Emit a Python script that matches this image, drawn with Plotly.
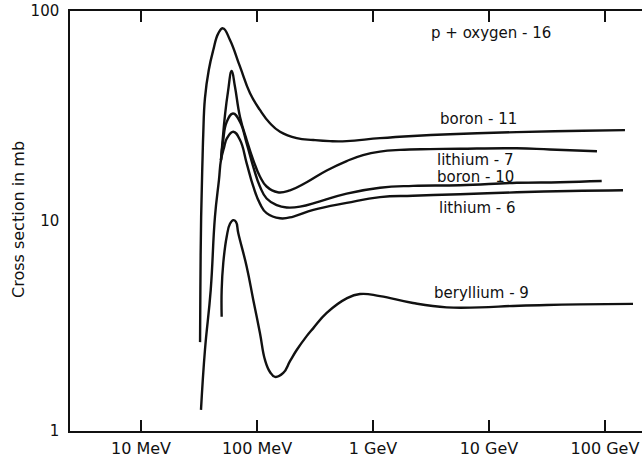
import plotly.graph_objects as go

# Energies in MeV, cross sections in mb
energy_b11 = [32.3, 32.5, 33.0, 34.0, 34.4, 35.6, 38.4, 42.0, 46.4, 50.9, 58.5, 71.4, 87.1, 106, 129.4, 158, 220, 306, 426, 593, 1149, 2212, 4611, 17333, 64630, 148700]
xs_b11 = [2.65, 4.69, 10.45, 20.6, 25.7, 38.5, 52.4, 65.2, 78.3, 82.7, 72.8, 54.3, 40.6, 33.8, 29.2, 26.6, 24.8, 24.3, 24.0, 24.0, 24.8, 25.4, 25.9, 26.5, 26.9, 27.1]

energy_li7 = [48.9, 50.4, 53.0, 56.2, 60.5, 64.6, 71.4, 81.5, 92.9, 106, 121, 151, 192.5, 268, 399, 593, 820, 1149, 1709, 3100, 5623, 17333, 33570, 85310]
xs_li7 = [19.5, 23.8, 32.0, 41.2, 51.8, 43.6, 31.3, 24.3, 19.5, 16.3, 14.6, 13.7, 14.0, 15.3, 17.4, 19.3, 20.6, 21.4, 21.8, 22.0, 22.1, 22.2, 21.9, 21.5]

energy_b10 = [48.9, 50.9, 54.8, 62.1, 71.4, 81.5, 92.9, 106, 121, 148, 180, 235, 349, 593, 1149, 2212, 5623, 17333, 40940, 93670]
xs_b10 = [19.5, 23.8, 29.6, 32.5, 29.6, 23.4, 18.1, 14.6, 12.8, 11.9, 11.6, 11.7, 12.4, 13.5, 14.4, 14.7, 14.8, 15.2, 15.3, 15.5]

energy_li6 = [32.9, 35.6, 39.9, 43.4, 47.0, 48.9, 51.9, 55.1, 62.5, 71.4, 81.5, 92.9, 106, 121, 158, 206, 306, 593, 1149, 2212, 5623, 17333, 49930, 142950]
xs_li6 = [1.26, 2.43, 4.69, 10.45, 15.7, 19.5, 22.3, 24.8, 26.6, 24.3, 18.8, 14.6, 12.1, 10.9, 10.3, 10.5, 11.3, 12.2, 13.0, 13.2, 13.4, 13.7, 13.9, 14.0]

energy_be9 = [49.6, 49.6, 51.2, 54.8, 58.5, 62.5, 65.9, 69.0, 81.5, 92.9, 106, 117.2, 129.4, 143, 168.5, 192.5, 220, 268, 306, 399, 593, 772, 1149, 2212, 4318, 8364, 16103, 31440, 60880, 174300]
xs_be9 = [3.50, 4.69, 6.31, 8.42, 9.7, 10.1, 9.9, 8.74, 6.06, 4.21, 2.93, 2.18, 1.91, 1.81, 1.89, 2.15, 2.43, 2.83, 3.09, 3.65, 4.28, 4.49, 4.39, 4.07, 3.88, 3.88, 3.94, 3.98, 4.01, 4.03]

x_tickvals = [10, 100, 1000, 10000, 100000]
x_ticktext = ["10 MeV", "100 MeV", "1 GeV", "10 GeV", "100 GeV"]
y_tickvals = [1, 10, 100]
y_ticktext = ["1", "10", "100"]

series = [
    (energy_b11, xs_b11),
    (energy_li7, xs_li7),
    (energy_b10, xs_b10),
    (energy_li6, xs_li6),
    (energy_be9, xs_be9),
]

FONT = "DejaVu Sans"
INK = "#111111"

fig = go.Figure()
for ex, sy in series:
    fig.add_trace(go.Scatter(x=ex, y=sy, mode="lines",
                             line=dict(color=INK, width=2.4, shape="spline", smoothing=1.3),
                             showlegend=False, hoverinfo="skip"))

def px_x(p):
    return (p - 70) / 572

def px_y(p):
    return (431 - p) / 420

labels = [
    ("p + oxygen - 16", 491, 33, "center"),
    ("boron - 11", 438, 119, "left"),
    ("lithium - 7", 435, 160, "left"),
    ("boron - 10", 435, 177, "left"),
    ("lithium - 6", 436.7, 208, "left"),
    ("beryllium - 9", 431.7, 293.3, "left"),
]
annotations = []
for txt, x, y, anchor in labels:
    annotations.append(dict(text=txt, x=px_x(x), y=px_y(y), xref="paper", yref="paper",
                            xanchor=anchor, yanchor="middle", showarrow=False,
                            font=dict(family=FONT, size=15, color=INK)))
annotations.append(dict(text="Cross section in mb", x=px_x(18), y=px_y(220), xref="paper", yref="paper",
                        xanchor="center", yanchor="middle", showarrow=False, textangle=-90,
                        font=dict(family=FONT, size=16, color=INK)))

fig.update_layout(
    width=642, height=459,
    margin=dict(l=70, r=0, t=11, b=28),
    paper_bgcolor="white", plot_bgcolor="white",
    annotations=annotations,
    xaxis=dict(type="log", range=[0.388, 5.319], tickvals=x_tickvals, ticktext=x_ticktext,
               ticks="inside", ticklen=11, tickwidth=1.5, tickcolor=INK,
               showline=True, linewidth=1.5, linecolor=INK, mirror="ticks",
               showgrid=False, zeroline=False, ticklabelstandoff=2,
               tickfont=dict(family=FONT, size=16, color=INK)),
    yaxis=dict(type="log", range=[0, 2], tickvals=y_tickvals, ticktext=y_ticktext,
               ticks="", showline=True, linewidth=1.5, linecolor=INK,
               showgrid=False, zeroline=False, ticklabelstandoff=6,
               tickfont=dict(family=FONT, size=15, color=INK)),
)

fig.write_html("out.html")
